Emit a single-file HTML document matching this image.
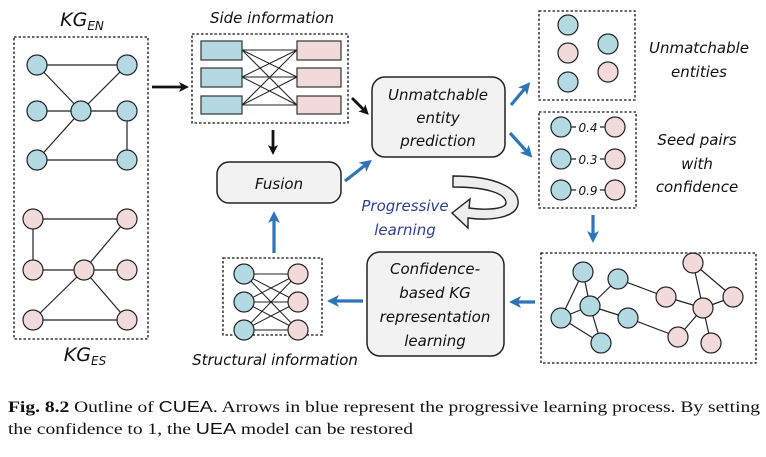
<!DOCTYPE html>
<html><head><meta charset="utf-8"><style>body{margin:0;background:#fff}svg{display:block}</style></head><body>
<svg width="766" height="457" viewBox="0 0 766 457" xmlns="http://www.w3.org/2000/svg" font-family="'DejaVu Sans','Liberation Sans',sans-serif">
<defs>
<marker id="bk" markerWidth="10" markerHeight="10" refX="6" refY="5" orient="auto" markerUnits="userSpaceOnUse"><path d="M0,0 L10,5 L0,10 L2.5,5 z" fill="#111"/></marker>
<marker id="bl" markerWidth="12" markerHeight="12" refX="7" refY="6" orient="auto" markerUnits="userSpaceOnUse"><path d="M0,0 L12,6 L0,12 L3,6 z" fill="#2e75b6"/></marker>
</defs>
<g fill="none" stroke="#111" stroke-width="1.3" stroke-dasharray="2.5,2">
<rect x="14" y="37" width="134" height="302"/>
<rect x="192" y="34" width="156" height="89"/>
<rect x="223" y="258" width="99" height="77"/>
<rect x="539" y="11" width="96" height="89"/>
<rect x="539" y="112" width="97" height="96"/>
<rect x="541" y="253" width="215" height="110"/>
</g>
<g stroke="#222" stroke-width="1.2">
<line x1="37" y1="65" x2="127" y2="65"/><line x1="37" y1="65" x2="81" y2="111"/><line x1="81" y1="111" x2="127" y2="65"/>
<line x1="37" y1="111" x2="127" y2="111"/><line x1="81" y1="111" x2="37" y2="160"/><line x1="127" y1="111" x2="127" y2="160"/><line x1="37" y1="160" x2="127" y2="160"/>
<line x1="33" y1="219" x2="127" y2="219"/><line x1="33" y1="219" x2="33" y2="270"/><line x1="33" y1="270" x2="127" y2="270"/><line x1="84" y1="270" x2="127" y2="219"/><line x1="84" y1="270" x2="33" y2="320"/><line x1="84" y1="270" x2="127" y2="320"/><line x1="33" y1="320" x2="127" y2="320"/>
</g>
<g stroke="#222" stroke-width="1.2" fill="#b3d9e3">
<circle cx="37" cy="65" r="10"/><circle cx="127" cy="65" r="10"/><circle cx="37" cy="111" r="10"/><circle cx="81" cy="111" r="10"/><circle cx="127" cy="111" r="10"/><circle cx="37" cy="160" r="10"/><circle cx="127" cy="160" r="10"/>
</g>
<g stroke="#222" stroke-width="1.2" fill="#f2d9da">
<circle cx="33" cy="219" r="10"/><circle cx="127" cy="219" r="10"/><circle cx="33" cy="270" r="10"/><circle cx="84" cy="270" r="10"/><circle cx="127" cy="270" r="10"/><circle cx="33" cy="320" r="10"/><circle cx="127" cy="320" r="10"/>
</g>
<text x="82" y="26" font-size="19" font-style="italic" text-anchor="middle" fill="#111">KG<tspan font-size="12" dy="4">EN</tspan></text>
<text x="85" y="361" font-size="19" font-style="italic" text-anchor="middle" fill="#111">KG<tspan font-size="12" dy="4">ES</tspan></text>
<text x="272" y="23" font-size="15" font-style="italic" text-anchor="middle" fill="#111">Side information</text>
<g stroke="#222" stroke-width="1">
<line x1="242" y1="50" x2="297" y2="50"/><line x1="242" y1="50" x2="297" y2="77"/><line x1="242" y1="50" x2="297" y2="105"/>
<line x1="242" y1="77" x2="297" y2="50"/><line x1="242" y1="77" x2="297" y2="77"/><line x1="242" y1="77" x2="297" y2="105"/>
<line x1="242" y1="105" x2="297" y2="50"/><line x1="242" y1="105" x2="297" y2="77"/><line x1="242" y1="105" x2="297" y2="105"/>
</g>
<g stroke="#333" stroke-width="1.2">
<rect x="201" y="41" width="41" height="19" fill="#b3d9e3"/><rect x="201" y="68" width="41" height="19" fill="#b3d9e3"/><rect x="201" y="96" width="41" height="18" fill="#b3d9e3"/>
<rect x="297" y="41" width="44" height="19" fill="#f2d9da"/><rect x="297" y="68" width="44" height="19" fill="#f2d9da"/><rect x="297" y="96" width="44" height="18" fill="#f2d9da"/>
</g>
<g stroke="#111" stroke-width="2.8">
<line x1="152" y1="87" x2="185" y2="87" marker-end="url(#bk)"/>
<line x1="273" y1="130" x2="273" y2="151" marker-end="url(#bk)"/>
<line x1="352" y1="98" x2="366" y2="112" marker-end="url(#bk)"/>
</g>
<g stroke="#222" stroke-width="1.5" fill="#f2f2f2">
<rect x="217" y="162" width="124" height="41" rx="12"/>
<rect x="372" y="77" width="133" height="80" rx="13"/>
<rect x="367" y="252" width="137" height="104" rx="13"/>
</g>
<g font-size="15" font-style="italic" text-anchor="middle" fill="#111">
<text x="279" y="189">Fusion</text>
<text x="438" y="100">Unmatchable</text><text x="438" y="123">entity</text><text x="438" y="146">prediction</text>
<text x="435" y="274">Confidence-</text><text x="435" y="298">based KG</text><text x="435" y="322">representation</text><text x="435" y="346">learning</text>
<text x="275" y="365">Structural information</text>
<text x="699" y="53">Unmatchable</text><text x="699" y="77">entities</text>
<text x="697" y="145">Seed pairs</text><text x="697" y="169">with</text><text x="697" y="192">confidence</text>
</g>
<g font-size="15" font-style="italic" text-anchor="middle" fill="#2f3e8f">
<text x="405" y="211">Progressive</text><text x="405" y="235">learning</text>
</g>
<path d="M453,176 C495,176 520,188 518,204 C516,218 490,221 468,218 L468,228 L452,213 L470,199 L469,208 C490,211 506,208 506,203 C506,193 485,187 453,187 Z" fill="#eee" stroke="#222" stroke-width="1.4"/>
<g stroke="#222" stroke-width="1">
<line x1="244" y1="274" x2="298" y2="274"/><line x1="244" y1="274" x2="298" y2="302"/><line x1="244" y1="274" x2="298" y2="330"/>
<line x1="244" y1="302" x2="298" y2="274"/><line x1="244" y1="302" x2="298" y2="302"/><line x1="244" y1="302" x2="298" y2="330"/>
<line x1="244" y1="330" x2="298" y2="274"/><line x1="244" y1="330" x2="298" y2="302"/><line x1="244" y1="330" x2="298" y2="330"/>
</g>
<g stroke="#222" stroke-width="1.2">
<circle cx="244" cy="274" r="10" fill="#b3d9e3"/><circle cx="244" cy="302" r="10" fill="#b3d9e3"/><circle cx="244" cy="330" r="10" fill="#b3d9e3"/>
<circle cx="298" cy="274" r="10" fill="#f2d9da"/><circle cx="298" cy="302" r="10" fill="#f2d9da"/><circle cx="298" cy="330" r="10" fill="#f2d9da"/>
</g>
<g stroke="#2e75b6" stroke-width="3.2">
<line x1="274" y1="253" x2="274" y2="216" marker-end="url(#bl)"/>
<line x1="345" y1="181" x2="368" y2="163" marker-end="url(#bl)"/>
<line x1="511" y1="105" x2="527" y2="86" marker-end="url(#bl)"/>
<line x1="510" y1="133" x2="529" y2="154" marker-end="url(#bl)"/>
<line x1="593" y1="215" x2="593" y2="238" marker-end="url(#bl)"/>
<line x1="535" y1="302" x2="514" y2="302" marker-end="url(#bl)"/>
<line x1="363" y1="301" x2="332" y2="301" marker-end="url(#bl)"/>
</g>
<g stroke="#222" stroke-width="1.2">
<circle cx="568" cy="25" r="10" fill="#b3d9e3"/><circle cx="568" cy="53" r="10" fill="#f2d9da"/><circle cx="568" cy="82" r="10" fill="#b3d9e3"/>
<circle cx="608" cy="44" r="10" fill="#b3d9e3"/><circle cx="608" cy="72" r="10" fill="#f2d9da"/>
</g>
<g stroke="#222" stroke-width="1.2">
<line x1="571" y1="127" x2="605" y2="127"/><line x1="571" y1="159" x2="605" y2="159"/><line x1="571" y1="190" x2="605" y2="190"/>
<circle cx="561" cy="127" r="10" fill="#b3d9e3"/><circle cx="615" cy="127" r="10" fill="#f2d9da"/>
<circle cx="561" cy="159" r="10" fill="#b3d9e3"/><circle cx="615" cy="159" r="10" fill="#f2d9da"/>
<circle cx="561" cy="190" r="10" fill="#b3d9e3"/><circle cx="615" cy="190" r="10" fill="#f2d9da"/>
</g>
<g font-size="12" font-style="italic" text-anchor="middle" fill="#111">
<rect x="576" y="120" width="24" height="14" fill="#fff"/><text x="588" y="132">0.4</text>
<rect x="576" y="152" width="24" height="14" fill="#fff"/><text x="588" y="164">0.3</text>
<rect x="576" y="183" width="24" height="14" fill="#fff"/><text x="588" y="195">0.9</text>
</g>
<g stroke="#222" stroke-width="1.2">
<line x1="583" y1="272" x2="561" y2="318"/><line x1="583" y1="272" x2="590" y2="306"/><line x1="618" y1="279" x2="590" y2="306"/><line x1="618" y1="279" x2="666" y2="297"/>
<line x1="590" y1="306" x2="561" y2="318"/><line x1="590" y1="306" x2="628" y2="318"/><line x1="590" y1="306" x2="601" y2="343"/><line x1="561" y1="318" x2="601" y2="343"/>
<line x1="628" y1="318" x2="678" y2="337"/><line x1="666" y1="297" x2="703" y2="308"/><line x1="693" y1="263" x2="703" y2="308"/><line x1="693" y1="263" x2="733" y2="297"/>
<line x1="703" y1="308" x2="733" y2="297"/><line x1="703" y1="308" x2="678" y2="337"/><line x1="703" y1="308" x2="711" y2="343"/>
</g>
<g stroke="#222" stroke-width="1.2" fill="#b3d9e3">
<circle cx="583" cy="272" r="10"/><circle cx="618" cy="279" r="10"/><circle cx="590" cy="306" r="10"/><circle cx="561" cy="318" r="10"/><circle cx="628" cy="318" r="10"/><circle cx="601" cy="343" r="10"/>
</g>
<g stroke="#222" stroke-width="1.2" fill="#f2d9da">
<circle cx="693" cy="263" r="10"/><circle cx="666" cy="297" r="10"/><circle cx="703" cy="308" r="10"/><circle cx="733" cy="297" r="10"/><circle cx="678" cy="337" r="10"/><circle cx="711" cy="343" r="10"/>
</g>
<g font-family="'Liberation Serif',serif" font-size="16" fill="#111">
<text x="8" y="412" textLength="752" lengthAdjust="spacingAndGlyphs"><tspan font-weight="bold">Fig. 8.2</tspan>  Outline of <tspan font-family="'Liberation Sans',sans-serif">CUEA</tspan>. Arrows in blue represent the progressive learning process. By setting</text>
<text x="8" y="434" textLength="405" lengthAdjust="spacingAndGlyphs">the confidence to 1, the <tspan font-family="'Liberation Sans',sans-serif">UEA</tspan> model can be restored</text>
</g>
</svg>
</body></html>
